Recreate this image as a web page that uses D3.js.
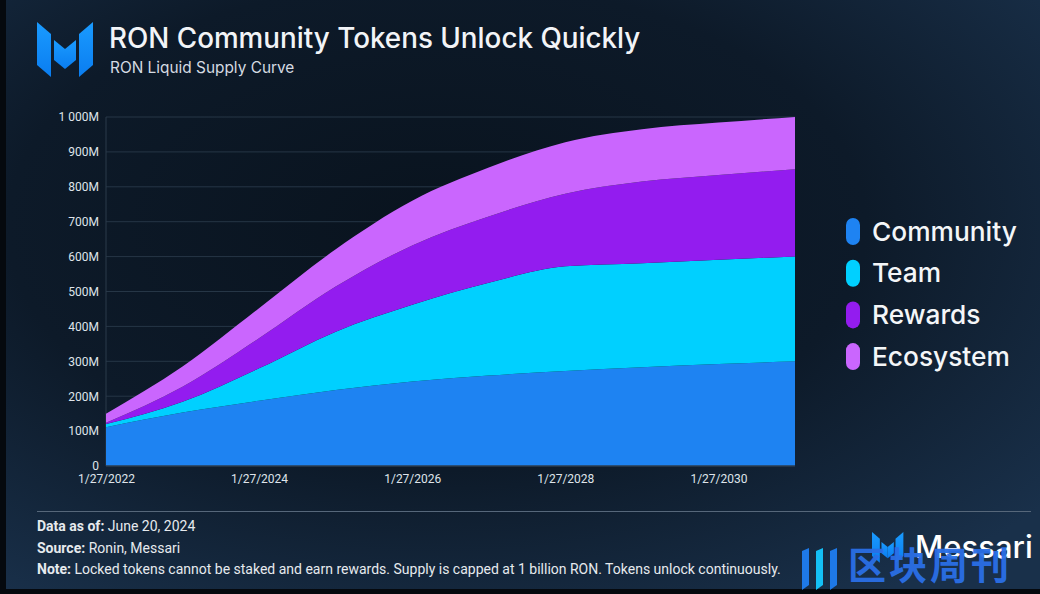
<!DOCTYPE html>
<html>
<head>
<meta charset="utf-8">
<script src="https://cdn.jsdelivr.net/npm/d3@7"></script>
<style>
  html, body { margin: 0; padding: 0; background: #0c1724; }
  svg { display: block; }
</style>
</head>
<body>
<svg id="chart"></svg>
<script>
// data (millions of RON, per series)
const dates = ["1/27/2022", "1/27/2023", "1/27/2024", "1/27/2025", "1/27/2026",
               "1/27/2027", "1/27/2028", "1/27/2029", "1/27/2030", "1/27/2031"];
const community = [111, 153, 187, 218, 242, 259, 272, 283, 292, 300];
const team      = [9, 31, 93, 167, 220, 266, 300, 298, 299, 300];
const rewards   = [4, 43, 86, 129, 170, 190, 208, 234, 243, 250];
const ecosystem = [26, 58, 86, 107, 128, 140, 148, 150, 150, 150];

const seriesNames = ["Community", "Team", "Rewards", "Ecosystem"];
const seriesColors = ["#1e83f2", "#00d0ff", "#931cef", "#ca66fe"];
const yTicks = [0, 100, 200, 300, 400, 500, 600, 700, 800, 900, 1000];
const xTickLabels = ["1/27/2022", "1/27/2024", "1/27/2026", "1/27/2028", "1/27/2030"];

const W = 1040, H = 594;
const svg = d3.select("#chart").attr("width", W).attr("height", H);

// background
const defs = svg.append("defs");
const bg = defs.append("radialGradient").attr("id", "bg")
    .attr("cx", "42%").attr("cy", "38%").attr("r", "75%");
bg.append("stop").attr("offset", "0%").attr("stop-color", "#09131e");
bg.append("stop").attr("offset", "55%").attr("stop-color", "#0d1a29");
bg.append("stop").attr("offset", "100%").attr("stop-color", "#19304a");
svg.append("rect").attr("width", W).attr("height", H).attr("fill", "url(#bg)");
svg.append("rect").attr("width", 6).attr("height", H).attr("fill", "#05090e");
svg.append("rect").attr("y", 589).attr("width", W).attr("height", 5).attr("fill", "#05090e");

const logoGrad = defs.append("linearGradient").attr("id", "logo")
    .attr("x1", "0").attr("y1", "0").attr("x2", "0").attr("y2", "1");
logoGrad.append("stop").attr("offset", "0%").attr("stop-color", "#1a9bff");
logoGrad.append("stop").attr("offset", "100%").attr("stop-color", "#0a7df0");

// Messari mark, drawn at any offset/scale
function drawMark(g, s) {
    const pieces = [
        [[0, 0], [14, 12], [14, 55], [0, 43]],
        [[17, 18], [28, 27], [28, 47], [17, 38]],
        [[28, 27], [39, 18], [39, 38], [28, 47]],
        [[42, 12], [56, 0], [56, 43], [42, 55]]
    ];
    g.selectAll("polygon").data(pieces).join("polygon")
        .attr("points", d => d.map(p => [p[0] * s, p[1] * s].join(",")).join(" "))
        .attr("fill", "url(#logo)");
}
drawMark(svg.append("g").attr("transform", "translate(37,22)"), 1);

// titles
svg.append("text").attr("x", 109).attr("y", 48)
    .attr("fill", "#f2f4f7").attr("font-family", "Inter, 'Open Sans', sans-serif")
    .attr("font-size", 27.8).attr("font-weight", 500)
    .text("RON Community Tokens Unlock Quickly");
svg.append("text").attr("x", 110).attr("y", 73)
    .attr("fill", "#d5dbe2").attr("font-family", "Inter, 'Open Sans', sans-serif")
    .attr("font-size", 15.4)
    .text("RON Liquid Supply Curve");

// scales
const parse = d3.timeParse("%m/%d/%Y");
const table = dates.map((d, i) => ({
    date: parse(d),
    Community: community[i], Team: team[i], Rewards: rewards[i], Ecosystem: ecosystem[i]
}));

const x = d3.scaleTime()
    .domain([parse("1/27/2022"), parse("1/27/2031")])
    .range([106, 795]);
const y = d3.scaleLinear().domain([0, 1000]).range([466, 117]);

// grid
svg.append("g").selectAll("line").data(yTicks.filter(d => d > 0)).join("line")
    .attr("x1", 106).attr("x2", 795)
    .attr("y1", d => y(d)).attr("y2", d => y(d))
    .attr("stroke", "#263646").attr("stroke-width", 1);
svg.append("line").attr("x1", 106).attr("x2", 106).attr("y1", y(1000)).attr("y2", y(0))
    .attr("stroke", "#2a3a4a");

// stacked areas
const stack = d3.stack().keys(seriesNames);
const layers = stack(table);
const area = d3.area()
    .x(d => x(d.data.date))
    .y0(d => y(d[0]))
    .y1(d => y(d[1]))
    .curve(d3.curveMonotoneX);

svg.append("g").selectAll("path").data(layers).join("path")
    .attr("d", area)
    .attr("fill", (d, i) => seriesColors[i]);

svg.append("line").attr("x1", 106).attr("x2", 795).attr("y1", y(0)).attr("y2", y(0))
    .attr("stroke", "#2c3c4e").attr("stroke-width", 1.5);

// axes
const loc = d3.formatLocale({ decimal: ".", thousands: " ", grouping: [3], currency: ["", ""] });
const fmt = loc.format(",");

const yAxis = svg.append("g").attr("transform", "translate(106,0)")
    .call(d3.axisLeft(y).tickValues(yTicks).tickSize(0).tickPadding(7)
        .tickFormat(d => d === 0 ? "0" : fmt(d) + "M"));
yAxis.select(".domain").remove();
yAxis.selectAll("text")
    .attr("fill", "#dfe4ea")
    .attr("font-family", "Roboto, Arial, sans-serif")
    .attr("font-size", 12);

const xAxis = svg.append("g").attr("transform", "translate(0,466)")
    .call(d3.axisBottom(x).tickValues(xTickLabels.map(parse)).tickSize(0).tickPadding(8)
        .tickFormat(d3.timeFormat("%-m/%d/%Y")));
xAxis.select(".domain").remove();
xAxis.selectAll("text")
    .attr("fill", "#dfe4ea")
    .attr("font-family", "Roboto, Arial, sans-serif")
    .attr("font-size", 12);

// legend
const legend = svg.append("g").attr("transform", "translate(846,231)");
const item = legend.selectAll("g").data(seriesNames).join("g")
    .attr("transform", (d, i) => `translate(0,${i * 41.7})`);
item.append("rect")
    .attr("x", 0).attr("y", -13).attr("width", 14).attr("height", 27).attr("rx", 7)
    .attr("fill", (d, i) => seriesColors[i]);
item.append("text")
    .attr("x", 26).attr("y", 9.5)
    .attr("fill", "#f4f6f8")
    .attr("font-family", "Inter, 'Open Sans', sans-serif")
    .attr("font-size", 26.3).attr("font-weight", 500)
    .text(d => d);

// footer
svg.append("line").attr("x1", 37).attr("x2", 1031).attr("y1", 511.5).attr("y2", 511.5)
    .attr("stroke", "#56677a").attr("stroke-width", 1.2);

const notes = [
    ["Data as of:", " June 20, 2024"],
    ["Source:", " Ronin, Messari"],
    ["Note:", " Locked tokens cannot be staked and earn rewards. Supply is capped at 1 billion RON. Tokens unlock continuously."]
];
svg.append("g").selectAll("text").data(notes).join("text")
    .attr("x", 37).attr("y", (d, i) => 531 + i * 21.7)
    .attr("fill", "#e6eaee")
    .attr("font-family", "Roboto, Arial, sans-serif")
    .attr("font-size", 14)
    .each(function (d) {
        const t = d3.select(this);
        t.append("tspan").attr("font-weight", 700).text(d[0]);
        t.append("tspan").text(d[1]);
    });

// Messari brand, bottom right
drawMark(svg.append("g").attr("transform", "translate(872,532)"), 0.56);
svg.append("text").attr("x", 915).attr("y", 558)
    .attr("fill", "#ffffff").attr("font-family", "Inter, 'Open Sans', sans-serif")
    .attr("font-size", 31).attr("font-weight", 500)
    .text("Messari");

// watermark
const wm = svg.append("g").attr("opacity", 0.95);
[[802, 0], [816, 0], [830, 0]].forEach(function (p, i) {
    wm.append("polygon")
        .attr("points", `${p[0]},551 ${p[0] + 7},548 ${p[0] + 7},585 ${p[0]},590`)
        .attr("fill", i === 1 ? "#14c8ff" : "#1f7ef0");
});
wm.append("text").attr("x", 848).attr("y", 579)
    .attr("fill", "#2a6fe6")
    .attr("font-family", "'Noto Sans CJK SC', sans-serif")
    .attr("font-size", 38).attr("font-weight", 700)
    .attr("letter-spacing", 3)
    .text("区块周刊");
</script>
</body>
</html>
